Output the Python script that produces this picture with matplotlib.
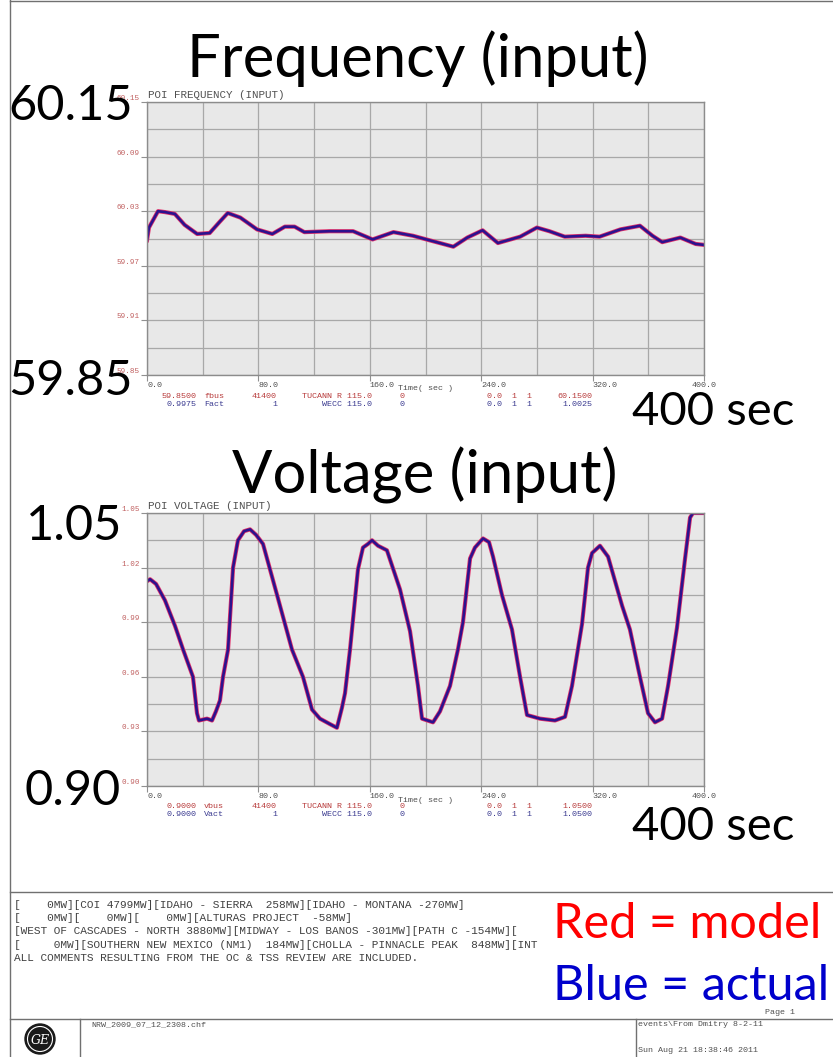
import matplotlib.pyplot as plt
import matplotlib.patches as patches
import numpy as np

# POI frequency record (time in s, frequency in Hz)
freq_time = [0, 1.4, 7.9, 13, 20, 27, 36, 45, 52, 58, 67, 79, 90, 99, 106, 113, 131, 148,
             162, 177, 191, 203, 220, 230, 241, 252, 268, 280, 289, 300, 315, 325, 340,
             354, 363, 370, 383, 394, 400]
freq_actual = [59.998, 60.012, 60.030, 60.029, 60.027, 60.015, 60.005, 60.006, 60.018, 60.028,
               60.023, 60.010, 60.005, 60.013, 60.013, 60.007, 60.008, 60.008, 59.999, 60.007,
               60.003, 59.998, 59.991, 60.001, 60.009, 59.995, 60.002, 60.012, 60.008, 60.002,
               60.003, 60.002, 60.010, 60.014, 60.003, 59.996, 60.001, 59.994, 59.993]
freq_model = freq_actual  # model is driven by the recorded input

# POI voltage record (time in s, voltage in pu)
volt_time = [0, 2.2, 6.5, 12.9, 20.1, 25.9, 33.0, 35.9, 37.3, 43.1,
             46.7, 49.5, 52.4, 54.6, 58.2, 61.8, 65.3, 69.7, 74.0, 78.3,
             83.3, 94.1, 104.1, 112.0, 118.5, 124.2, 131.4, 136.4, 140.0, 142.2,
             145.8, 151.5, 155.1, 158.7, 161.6, 165.9, 172.3, 181.7, 188.9, 194.6,
             197.5, 205.4, 210.4, 217.6, 223.3, 226.9, 232.0, 235.5, 241.3, 245.6,
             248.5, 254.9, 262.1, 267.9, 272.9, 282.2, 293.0, 300.2, 305.2, 312.4,
             316.7, 319.6, 325.3, 331.1, 341.2, 346.8, 354.0, 359.8, 364.8, 369.9,
             374.2, 380.6, 386.4, 390.0, 392.1, 400]
volt_actual = [1.0125, 1.0136, 1.011, 1.002, 0.988, 0.975, 0.960, 0.940, 0.936, 0.937,
               0.936, 0.941, 0.947, 0.960, 0.975, 1.020, 1.035, 1.040, 1.041, 1.038,
               1.033, 1.003, 0.975, 0.960, 0.942, 0.937, 0.934, 0.932, 0.943, 0.951,
               0.975, 1.019, 1.031, 1.033, 1.035, 1.032, 1.0295, 1.008, 0.985, 0.955,
               0.937, 0.935, 0.941, 0.955, 0.975, 0.990, 1.025, 1.031, 1.036, 1.034,
               1.026, 1.005, 0.986, 0.960, 0.939, 0.937, 0.936, 0.938, 0.955, 0.989,
               1.020, 1.028, 1.032, 1.026, 0.999, 0.986, 0.960, 0.940, 0.935, 0.937,
               0.955, 0.987, 1.025, 1.0475, 1.050, 1.050]
volt_model = volt_actual

# channel legend rows printed under each PSLF plot
freq_rows = [["59.8500", "fbus", "41400", "TUCANN R 115.0", "0", "0.0  1  1", "60.1500"],
             ["0.9975", "Fact", "1", "WECC 115.0", "0", "0.0  1  1", "1.0025"]]
volt_rows = [["0.9000", "vbus", "41400", "TUCANN R 115.0", "0", "0.0  1  1", "1.0500"],
             ["0.9000", "Vact", "1", "WECC 115.0", "0", "0.0  1  1", "1.0500"]]

comment_lines = [
    "[    0MW][COI 4799MW][IDAHO - SIERRA  258MW][IDAHO - MONTANA -270MW]",
    "[    0MW][    0MW][    0MW][ALTURAS PROJECT  -58MW]",
    "[WEST OF CASCADES - NORTH 3880MW][MIDWAY - LOS BANOS -301MW][PATH C -154MW][",
    "[     0MW][SOUTHERN NEW MEXICO (NM1)  184MW][CHOLLA - PINNACLE PEAK  848MW][INT",
    "ALL COMMENTS RESULTING FROM THE OC & TSS REVIEW ARE INCLUDED.",
]

W, H = 833, 1057
MONO = 'Liberation Mono'
BIG = 'Lato'
RED_TXT = '#b83c3c'
BLUE_TXT = '#3a3a90'
GRAY_TXT = '#505050'

fig = plt.figure(figsize=(W / 100, H / 100), dpi=100)


def px_axes(left, top, right, bottom):
    return fig.add_axes([left / W, 1 - bottom / H, (right - left) / W, (bottom - top) / H])


def pslf_axes(top, bottom, ymin, ymax, ystep, fmt, title):
    ax = px_axes(147, top, 704, bottom)
    ax.set_facecolor('#e8e8e8')
    ax.set_xlim(0, 400)
    ax.set_ylim(ymin, ymax)
    ax.set_xticks(np.arange(0, 401, 80))
    ax.set_xticks(np.arange(0, 401, 40), minor=True)
    yt = np.linspace(ymin, ymax, int(round((ymax - ymin) / ystep)) + 1)
    ax.set_yticks(yt)
    ax.set_yticks(np.linspace(ymin, ymax, 2 * len(yt) - 1), minor=True)
    ax.set_xticklabels([f"{v:.1f}" for v in np.arange(0, 401, 80)],
                       fontfamily=MONO, fontsize=6, color=GRAY_TXT)
    ax.set_yticklabels([fmt.format(v) for v in yt],
                       fontfamily=MONO, fontsize=5.5, color='#c06060')
    for lab in ax.get_xticklabels():
        lab.set_horizontalalignment('left')
    ax.get_xticklabels()[-1].set_horizontalalignment('center')
    for lab in ax.get_yticklabels():
        lab.set_verticalalignment('bottom')
    ax.tick_params(axis='both', which='major', length=4, width=0.8, color='#909090', pad=1)
    ax.tick_params(axis='both', which='minor', length=0)
    ax.grid(True, which='both', color='#a8a8a8', linewidth=0.9)
    ax.set_axisbelow(True)
    for sp in ax.spines.values():
        sp.set_color('#8c8c8c')
        sp.set_linewidth(1.0)
    ax.text(0.002, 1.008, title, transform=ax.transAxes, fontfamily=MONO,
            fontsize=7.8, color=GRAY_TXT, ha='left', va='bottom')
    return ax


def draw_traces(ax, t, model, actual):
    ax.plot(t, model, color='#e0306a', linewidth=3.0, solid_joinstyle='round')
    ax.plot(t, actual, color='#2c128e', linewidth=1.9, solid_joinstyle='round')


ax_f = pslf_axes(102, 375, 59.85, 60.15, 0.06, "{:.2f}", "POI FREQUENCY (INPUT)")
draw_traces(ax_f, freq_time, freq_model, freq_actual)

ax_v = pslf_axes(513, 786, 0.90, 1.05, 0.03, "{:.2f}", "POI VOLTAGE (INPUT)")
draw_traces(ax_v, volt_time, volt_model, volt_actual)

# page overlay in pixel coordinates
page = fig.add_axes([0, 0, 1, 1], zorder=5)
page.set_xlim(0, W)
page.set_ylim(H, 0)
page.axis('off')
page.patch.set_alpha(0)


def legend_rows(y_time, y_red, rows):
    page.text(398, y_time, "Time( sec )", fontfamily=MONO, fontsize=6, color=GRAY_TXT,
              ha='left', va='center')
    for y, row, c in [(y_red, rows[0], RED_TXT), (y_red + 8, rows[1], BLUE_TXT)]:
        kw = dict(fontfamily=MONO, fontsize=6, color=c, va='center')
        page.text(197, y, row[0], ha='right', **kw)
        page.text(204, y, row[1], ha='left', **kw)
        page.text(277, y, row[2], ha='right', **kw)
        page.text(372, y, row[3], ha='right', **kw)
        page.text(400, y, row[4], ha='left', **kw)
        page.text(487, y, row[5], ha='left', **kw)
        page.text(592, y, row[6], ha='right', **kw)


legend_rows(389, 396, freq_rows)
legend_rows(800, 806, volt_rows)

# slide annotations
big = dict(fontfamily=BIG, color='black', va='baseline')
page.text(418, 77, "Frequency (input)", ha='center', fontsize=43, **big)
page.text(425, 494, "Voltage (input)", ha='center', fontsize=43, **big)
page.text(8, 120, "60.15", ha='left', fontsize=35, **big)
page.text(8, 395, "59.85", ha='left', fontsize=35, **big)
page.text(26, 540, "1.05", ha='left', fontsize=35, **big)
page.text(25, 805, "0.90", ha='left', fontsize=35, **big)
page.text(632, 425, "400 sec", ha='left', fontsize=34, **big)
page.text(632, 840, "400 sec", ha='left', fontsize=34, **big)
page.text(553, 938, "Red = model", ha='left', fontsize=35, fontfamily=BIG,
          color='#ff0000', va='baseline')
page.text(553, 1000, "Blue = actual", ha='left', fontsize=35, fontfamily=BIG,
          color='#0000cc', va='baseline')

# page frame and comment block
line_kw = dict(color='#707070', linewidth=1.0)
page.plot([10, 10], [0, H], **line_kw)
page.plot([10, W], [1, 1], **line_kw)
page.plot([10, W], [892, 892], **line_kw)
page.plot([10, W], [1019, 1019], **line_kw)
page.plot([80, 80], [1019, H], **line_kw)
page.plot([636, 636], [1019, H], **line_kw)

for i, line in enumerate(comment_lines):
    page.text(14, 905 + 13.2 * i, line, fontfamily=MONO, fontsize=8, color='#404040',
              ha='left', va='center')

page.text(780, 1013, "Page 1", fontfamily=MONO, fontsize=6, color=GRAY_TXT,
          ha='center', va='center')
page.text(91, 1025, "NRW_2009_07_12_2308.chf", fontfamily=MONO, fontsize=6,
          color=GRAY_TXT, ha='left', va='center')
page.text(638, 1025, "events\\From Dmitry 8-2-11", fontfamily=MONO, fontsize=6,
          color=GRAY_TXT, ha='left', va='center')
page.text(638, 1050, "Sun Aug 21 18:38:46 2011", fontfamily=MONO, fontsize=6,
          color=GRAY_TXT, ha='left', va='center')

# GE monogram
page.add_patch(patches.Circle((40, 1039), 15, facecolor='#1a1a1a', edgecolor='#1a1a1a'))
page.add_patch(patches.Circle((40, 1039), 12.5, facecolor='none', edgecolor='white', linewidth=0.8))
page.text(40, 1040, "GE", fontfamily='DejaVu Serif', fontstyle='italic', fontsize=9,
          color='white', ha='center', va='center')

fig.savefig('out.png', dpi=100)
